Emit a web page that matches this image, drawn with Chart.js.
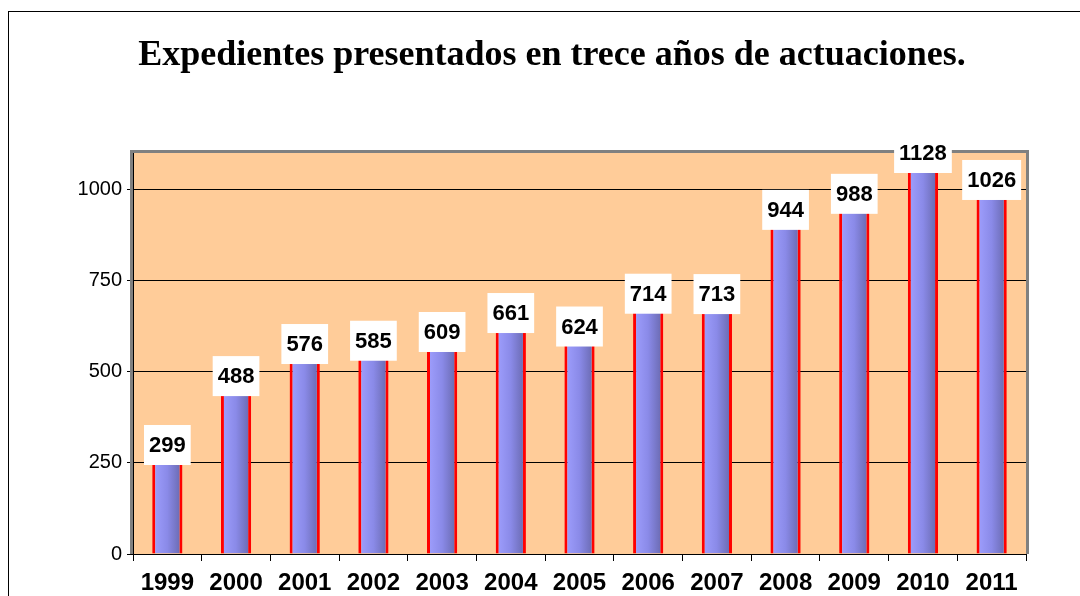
<!DOCTYPE html>
<html>
<head>
<meta charset="utf-8">
<script src="https://cdn.jsdelivr.net/npm/chart.js@4/dist/chart.umd.min.js"></script>
<style>
  html, body { margin: 0; padding: 0; background: #fff; }
  #wrap { width: 1080px; height: 596px; position: relative; }
</style>
</head>
<body>
<div id="wrap"><canvas id="expedientes_chart" width="1080" height="596"></canvas></div>
<script>
// datos
const years = ["1999", "2000", "2001", "2002", "2003", "2004", "2005", "2006", "2007", "2008", "2009", "2010", "2011"];
const expedientes = [299, 488, 576, 585, 609, 661, 624, 714, 713, 944, 988, 1128, 1026];
const y_ticks = [0, 250, 500, 750, 1000];
const y_max = 1100;
const chart_title = "Expedientes presentados en trece años de actuaciones.";

const bar_pct = 0.44;

// fondo, marco y título
const framePlugin = {
  id: "frame",
  beforeDraw(chart) {
    const c = chart.ctx;
    const a = chart.chartArea;
    c.save();
    c.fillStyle = "#fff";
    c.fillRect(0, 0, chart.width, chart.height);
    // marco exterior
    c.strokeStyle = "#000";
    c.lineWidth = 1;
    c.strokeRect(8.5, 11.5, 1200, 700);
    // título
    c.fillStyle = "#000";
    c.font = "bold 36px 'Liberation Serif', 'Times New Roman', serif";
    c.textAlign = "center";
    c.textBaseline = "middle";
    c.fillText(chart_title, 552, 56);
    // área de trazado
    c.fillStyle = "#FFCC99";
    c.fillRect(a.left, a.top, a.right - a.left, a.bottom - a.top);
    c.restore();
  },
  afterDatasetsDraw(chart) {
    const c = chart.ctx;
    const a = chart.chartArea;
    c.save();
    c.strokeStyle = "#808080";
    c.lineWidth = 3;
    c.beginPath();
    c.moveTo(a.left - 1.5, a.bottom);
    c.lineTo(a.left - 1.5, a.top - 1.5);
    c.lineTo(a.right + 1.5, a.top - 1.5);
    c.lineTo(a.right + 1.5, a.bottom);
    c.stroke();

    // etiquetas de valor
    const meta = chart.getDatasetMeta(0);
    c.font = "bold 22px 'Liberation Sans', Arial, sans-serif";
    c.textAlign = "center";
    c.textBaseline = "middle";
    meta.data.forEach((bar, i) => {
      const txt = String(expedientes[i]);
      const w = c.measureText(txt).width + 10;
      const h = 40;
      const cy = Math.max(bar.y, a.top);
      c.fillStyle = "#fff";
      c.fillRect(bar.x - w / 2, cy - h / 2, w, h);
      c.fillStyle = "#000";
      c.fillText(txt, bar.x, cy + 1);
    });
    c.restore();
  },
};

function barGradient(context) {
  const chart = context.chart;
  const xs = chart.scales.x;
  if (!xs || !chart.chartArea) return "#8888EE";
  const x = xs.getPixelForValue(context.dataIndex);
  const w = ((xs.right - xs.left) / years.length) * bar_pct;
  const g = chart.ctx.createLinearGradient(x - w / 2, 0, x + w / 2, 0);
  g.addColorStop(0, "#A0A0FF");
  g.addColorStop(0.5, "#8A8AE8");
  g.addColorStop(1, "#6666AA");
  return g;
}

const ctx = document.getElementById("expedientes_chart").getContext("2d");
const chart = new Chart(ctx, {
  type: "bar",
  data: {
    labels: years,
    datasets: [
      {
        label: "Expedientes",
        data: expedientes,
        backgroundColor: barGradient,
        borderColor: "#FF0000",
        borderWidth: { left: 3, right: 3, top: 0, bottom: 0 },
        borderSkipped: false,
        barPercentage: bar_pct,
        categoryPercentage: 1,
      },
    ],
  },
  options: {
    responsive: false,
    animation: false,
    devicePixelRatio: 1,
    layout: { padding: { left: 0, top: 153, right: 54, bottom: 0 } },
    plugins: {
      legend: { display: false },
      title: { display: false },
      tooltip: { enabled: false },
    },
    scales: {
      x: {
        grid: {
          offset: true,
          drawOnChartArea: false,
          drawTicks: true,
          tickLength: 7,
          color: "#000",
        },
        border: { color: "#000", width: 1 },
        ticks: {
          color: "#000",
          padding: 8,
          maxRotation: 0,
          font: { family: "'Liberation Sans', Arial, sans-serif", size: 24, weight: "bold" },
        },
        afterFit(scale) {
          scale.height = 42;
        },
      },
      y: {
        min: 0,
        max: y_max,
        afterBuildTicks(scale) {
          scale.ticks = y_ticks.map((v) => ({ value: v }));
        },
        grid: {
          color: "#000",
          lineWidth: 1,
          tickLength: 6,
        },
        border: { color: "#000", width: 1 },
        ticks: {
          color: "#000",
          padding: 5,
          callback: (v) => String(v),
          font: { family: "'Liberation Sans', Arial, sans-serif", size: 20 },
        },
        afterFit(scale) {
          scale.width = 133;
        },
      },
    },
  },
  plugins: [framePlugin],
});
</script>
</body>
</html>
